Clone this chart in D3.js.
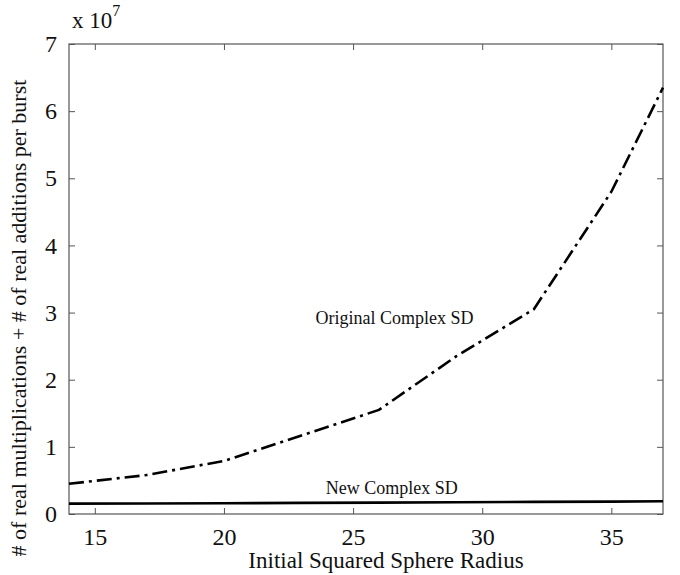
<!DOCTYPE html>
<html>
<head>
<meta charset="utf-8">
<script src="https://cdn.jsdelivr.net/npm/d3@7"></script>
<style>
body { margin: 0; background: #fff; }
svg text { font-family: 'Liberation Serif', 'DejaVu Serif', 'Noto Serif', 'Times New Roman', Times, serif !important; }
</style>
</head>
<body>
<script>
// data (y values in units of 1e7)
var radius = [14, 17, 20, 23, 26, 29, 32, 35, 37]
var originalSD = [0.45, 0.58, 0.79, 1.17, 1.55, 2.35, 3.05, 4.8, 6.35]
var newSD = [0.155, 0.156, 0.16, 0.165, 0.17, 0.175, 0.18, 0.185, 0.19]
var xTicks = [15, 20, 25, 30, 35]
var yTicks = [0, 1, 2, 3, 4, 5, 6, 7]

var svgWidth = 680
var svgHeight = 575
var plotLeft = 69, plotRight = 663, plotTop = 44, plotBottom = 514

var svg = d3.select("body").append("svg")
    .attr("width", svgWidth)
    .attr("height", svgHeight)

var x = d3.scaleLinear().domain([14, 37]).range([plotLeft, plotRight])
var y = d3.scaleLinear().domain([0, 7]).range([plotBottom, plotTop])

// frame
svg.append("rect")
    .attr("x", plotLeft).attr("y", plotTop)
    .attr("width", plotRight - plotLeft).attr("height", plotBottom - plotTop)
    .attr("fill", "none")
    .attr("stroke", "#555")
    .attr("stroke-width", 1.2)

// axes with inward ticks, mirrored on top and right
var tickLen = 6
svg.append("g")
    .attr("transform", "translate(0," + plotBottom + ")")
    .call(d3.axisBottom(x).tickValues(xTicks).tickSize(-tickLen).tickPadding(14))
svg.append("g")
    .attr("transform", "translate(0," + plotTop + ")")
    .call(d3.axisTop(x).tickValues(xTicks).tickSize(-tickLen).tickFormat(""))
svg.append("g")
    .attr("transform", "translate(" + plotLeft + ",0)")
    .call(d3.axisLeft(y).tickValues(yTicks).tickSize(-tickLen).tickPadding(12).tickFormat(d3.format("d")))
svg.append("g")
    .attr("transform", "translate(" + plotRight + ",0)")
    .call(d3.axisRight(y).tickValues(yTicks).tickSize(-tickLen).tickFormat(""))

svg.selectAll(".domain").remove()
svg.selectAll(".tick line").attr("stroke", "#555")
svg.selectAll(".tick text")
    .attr("font-size", 24)
    .attr("fill", "#111")

var line = d3.line()
    .x(function(d) { return x(d[0]) })
    .y(function(d) { return y(d[1]) })

svg.append("path")
    .datum(radius.map(function(r, i) { return [r, originalSD[i]] }))
    .attr("d", line)
    .attr("fill", "none")
    .attr("stroke", "#000")
    .attr("stroke-width", 2.6)
    .attr("stroke-dasharray", "15,5,3,5")

svg.append("path")
    .datum(radius.map(function(r, i) { return [r, newSD[i]] }))
    .attr("d", line)
    .attr("fill", "none")
    .attr("stroke", "#000")
    .attr("stroke-width", 2.6)

// line labels
svg.append("text")
    .attr("x", x(26.6)).attr("y", y(2.83))
    .attr("font-size", 18)
    .attr("text-anchor", "middle")
    .attr("fill", "#111")
    .text("Original Complex SD")

svg.append("text")
    .attr("x", x(26.5)).attr("y", y(0.3))
    .attr("font-size", 18)
    .attr("text-anchor", "middle")
    .attr("fill", "#111")
    .text("New Complex SD")

// exponent
var expo = svg.append("text")
    .attr("x", plotLeft + 3).attr("y", 28)
    .attr("font-size", 23)
    .attr("fill", "#111")
expo.append("tspan").text("x 10")
expo.append("tspan").attr("dy", -12).attr("font-size", 16).text("7")

// axis titles
svg.append("text")
    .attr("x", 386).attr("y", 568)
    .attr("text-anchor", "middle")
    .attr("font-size", 23)
    .attr("fill", "#111")
    .text("Initial Squared Sphere Radius")

svg.append("text")
    .attr("transform", "translate(26,318) rotate(-90)")
    .attr("text-anchor", "middle")
    .attr("font-size", 22)
    .attr("fill", "#111")
    .text("# of real multiplications + # of real additions per burst")
</script>
</body>
</html>
